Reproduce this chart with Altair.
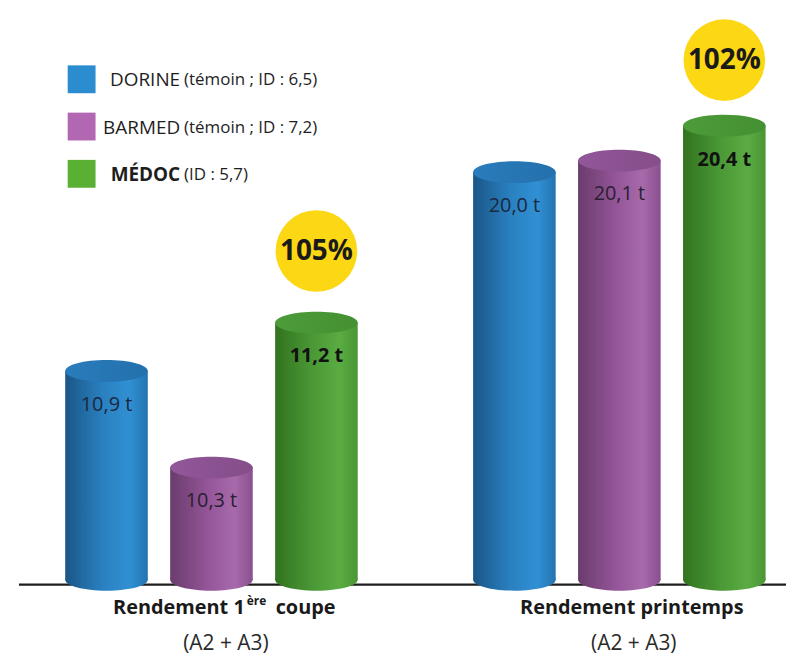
import altair as alt
import pandas as pd

# ---------------- data ----------------
groups = ["Rendement 1ère coupe", "Rendement printemps"]
varieties = ["DORINE", "BARMED", "MÉDOC"]
details = ["(témoin ; ID : 6,5)", "(témoin ; ID : 7,2)", "(ID : 5,7)"]
coupe1_t = [10.9, 10.3, 11.2]
printemps_t = [20.0, 20.1, 20.4]
gains = ["105%", "102%"]
subtitle = "(A2 + A3)"

# ---------------- style ----------------
FONT = "Open Sans"
legend_colors = ["#2b8cd0", "#b167b2", "#59b032"]
side_stops = [
    [(0, "#1a5687"), (0.45, "#2a80c0"), (0.78, "#3090d3"), (1, "#2473b0")],
    [(0, "#6a3c6c"), (0.45, "#935597"), (0.78, "#a76aab"), (1, "#8a508e")],
    [(0, "#32731f"), (0.45, "#4a9836"), (0.78, "#5aac42"), (1, "#4a9634")],
]
top_stops = [
    [(0, "#2a7cbb"), (1, "#2470ad")],
    [(0, "#91579a"), (1, "#854d89")],
    [(0, "#4c9c3a"), (1, "#449032")],
]
label_colors = ["#1b2940", "#2a1f33", "#111111"]
label_weights = ["normal", "normal", "bold"]
BAR_W = 83
ELLIPSE = "M -1 0 A 1 0.265 0 1 0 1 0 A 1 0.265 0 1 0 -1 0 Z"
W, H = 771, 573
# per-group y domains (the infographic exaggerates each group separately)
domains = [[9.604, 13.143], [16.484, 21.402]]
gain_offsets = [-72, -66]


def grad(stops):
    return alt.Gradient(
        gradient="linear", x1=0, y1=0, x2=1, y2=0,
        stops=[alt.GradientStop(offset=o, color=c) for o, c in stops],
    )


def fmt(v):
    return f"{v:.1f}".replace(".", ",") + " t"


rows = []
for g, vals in zip(groups, [coupe1_t, printemps_t]):
    for v, val in zip(varieties, vals):
        rows.append({"group": g, "variety": v, "value": val, "label": fmt(val)})
df = pd.DataFrame(rows)

xenc = alt.X("group:N", sort=groups,
             scale=alt.Scale(type="point", domain=groups, range=[194, 604], padding=0),
             axis=None)
xoff = alt.XOffset("variety:N", sort=varieties,
                   scale=alt.Scale(type="point", domain=varieties, range=[-106, 105],
                                   padding=0))

layers = [
    alt.Chart(pd.DataFrame({"k": [0]})).mark_rule(color="#1e1e1e", strokeWidth=2.2)
    .encode(x=alt.value(0), x2=alt.value(W), y=alt.value(H + 5))
]

for gi, g in enumerate(groups):
    dom = domains[gi]
    yscale = alt.Scale(domain=dom, zero=False, nice=False)
    yv = alt.Y("value:Q", scale=yscale, axis=None)
    yb = alt.Y("base:Q", scale=yscale, axis=None)
    for i, v in enumerate(varieties):
        sub = (alt.Chart(df)
               .transform_filter((alt.datum.group == g) & (alt.datum.variety == v))
               .transform_calculate(base=str(dom[0])))
        side = grad(side_stops[i])
        top = grad(top_stops[i])
        layers.append(sub.mark_point(shape=ELLIPSE, size=BAR_W ** 2, filled=True, fill=side,
                                     opacity=1, strokeWidth=0)
                      .encode(x=xenc, xOffset=xoff, y=yb))
        layers.append(sub.mark_bar(width=BAR_W, fill=side, strokeWidth=0)
                      .encode(x=xenc, xOffset=xoff, y=yv, y2="base:Q"))
        layers.append(sub.mark_point(shape=ELLIPSE, size=BAR_W ** 2, filled=True, fill=top,
                                     opacity=1, strokeWidth=0)
                      .encode(x=xenc, xOffset=xoff, y=yv))
        layers.append(sub.mark_text(font=FONT, fontSize=20, fontWeight=label_weights[i],
                                    color=label_colors[i], dy=34, baseline="middle")
                      .encode(x=xenc, xOffset=xoff, y=yv, text="label:N"))
    gsub = (alt.Chart(df)
            .transform_filter((alt.datum.group == g) & (alt.datum.variety == varieties[2]))
            .transform_calculate(gain=f"'{gains[gi]}'"))
    layers.append(gsub.mark_point(shape="circle", size=82 ** 2, filled=True, fill="#fbd714",
                                  opacity=1, strokeWidth=0, yOffset=gain_offsets[gi])
                  .encode(x=xenc, xOffset=xoff, y=yv))
    layers.append(gsub.mark_text(font=FONT, fontSize=28, fontWeight="bold", color="#1a1a1a",
                                 yOffset=gain_offsets[gi] + 1, baseline="middle")
                  .encode(x=xenc, xOffset=xoff, y=yv, text="gain:N"))

# group titles (with superscript "ère")
title_parts = [
    ("Rendement 1", 227, H + 34, 20, "right"),
    ("ère", 229, H + 25, 12, "left"),
    ("coupe", 258, H + 34, 20, "left"),
    (groups[1], 616, H + 34, 20, "center"),
]
for txt, x, y, size, align in title_parts:
    layers.append(alt.Chart(pd.DataFrame({"t": [txt]}))
                  .mark_text(font=FONT, fontSize=size, fontWeight="bold", color="#1a1a1a",
                             align=align, baseline="alphabetic")
                  .encode(text="t:N", x=alt.value(x), y=alt.value(y)))
for x in [208, 618]:
    layers.append(alt.Chart(pd.DataFrame({"t": [subtitle]}))
                  .mark_text(font=FONT, fontSize=21, color="#2a2a2a", align="center",
                             baseline="alphabetic")
                  .encode(text="t:N", x=alt.value(x), y=alt.value(H + 71)))

# legend
ldf = pd.DataFrame({"variety": varieties, "detail": details})
yl = alt.Y("variety:N", sort=varieties,
           scale=alt.Scale(type="point", domain=varieties, range=[70, 165], padding=0),
           axis=None)
layers.append(alt.Chart(ldf).mark_square(size=28 ** 2, opacity=1)
              .encode(x=alt.value(63), y=yl,
                      color=alt.Color("variety:N",
                                      scale=alt.Scale(domain=varieties, range=legend_colors),
                                      legend=None)))
for i, v in enumerate(varieties):
    layers.append(alt.Chart(ldf).transform_filter(alt.datum.variety == v)
                  .mark_text(font=FONT, fontSize=19, fontWeight=label_weights[i],
                             color="#1e1e1e", align="right", baseline="middle", dy=1)
                  .encode(x=alt.value(162), y=yl, text="variety:N"))
layers.append(alt.Chart(ldf).mark_text(font=FONT, fontSize=17, color="#1e1e1e",
                                       align="left", baseline="middle", dy=1)
              .encode(x=alt.value(166), y=yl, text="detail:N"))

chart = (
    alt.layer(*layers)
    .resolve_scale(y="independent")
    .properties(width=W, height=H,
                padding={"left": 9, "top": 0, "right": 0, "bottom": 0})
    .configure_view(stroke=None)
)
chart.save("out.html", embed_options={"renderer": "svg", "actions": False})
